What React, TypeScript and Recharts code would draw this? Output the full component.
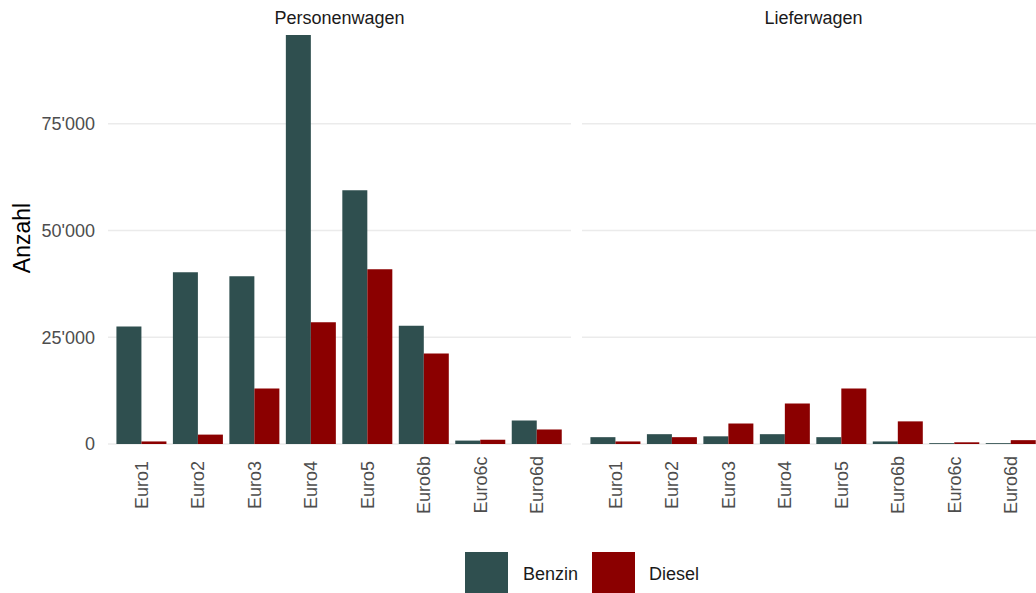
import React from "react";
import { BarChart, Bar, XAxis, YAxis, CartesianGrid } from "recharts";

const categories = ["Euro1", "Euro2", "Euro3", "Euro4", "Euro5", "Euro6b", "Euro6c", "Euro6d"];

// Personenwagen
const pwBenzin = [27500, 40200, 39300, 95800, 59400, 27700, 800, 5500];
const pwDiesel = [600, 2200, 13000, 28500, 40900, 21200, 1000, 3400];

// Lieferwagen
const lwBenzin = [1600, 2300, 1800, 2300, 1600, 600, 200, 200];
const lwDiesel = [600, 1600, 4800, 9500, 13000, 5300, 400, 900];

const yTicks = [0, 25000, 50000, 75000];
const Y_MAX = 100000;
const panels = ["Personenwagen", "Lieferwagen"];
const seriesNames = ["Benzin", "Diesel"];

const BENZIN = "#2F4F4F";
const DIESEL = "#8B0000";
const FONT = "'Liberation Sans', Arial, Helvetica, sans-serif";

const pwData = categories.map((c, i) => ({ name: c, Benzin: pwBenzin[i], Diesel: pwDiesel[i] }));
const lwData = categories.map((c, i) => ({ name: c, Benzin: lwBenzin[i], Diesel: lwDiesel[i] }));

// Tausender mit Apostroph
const formatNum = (v: number) => String(v).replace(/\B(?=(\d{3})+(?!\d))/g, "'");

const XTick = (props: any) => {
  const { x, payload } = props;
  const cy = 485;
  return (
    <text
      x={x}
      y={cy}
      transform={`rotate(-90, ${x}, ${cy})`}
      textAnchor="middle"
      dominantBaseline="central"
      fontSize={18}
      fontFamily={FONT}
      fill="#4d4d4d"
    >
      {payload.value}
    </text>
  );
};

// nur Linien bei den Ticks, keine am oberen Rand
const gridLines = ({ offset }: any) =>
  yTicks.map((t) => offset.top + offset.height * (1 - t / Y_MAX));

function Panel({ data, showY }: { data: any[]; showY: boolean }) {
  return (
    <BarChart
      width={showY ? 571 : 463}
      height={593}
      data={data}
      margin={{ top: 17, right: 0, bottom: 89, left: 0 }}
      barCategoryGap="5%"
      barGap={0}
    >
      <CartesianGrid
        vertical={false}
        stroke="#ebebeb"
        strokeWidth={1.5}
        horizontalCoordinatesGenerator={gridLines}
      />
      <XAxis
        dataKey="name"
        height={60}
        axisLine={false}
        tickLine={false}
        padding={{ left: 5.6, right: 5.6 }}
        tick={<XTick />}
        interval={0}
      />
      <YAxis
        hide={!showY}
        width={108}
        domain={[0, Y_MAX]}
        ticks={yTicks}
        axisLine={false}
        tickLine={false}
        tickSize={0}
        tickMargin={13}
        tickFormatter={formatNum}
        tick={{ fontSize: 18, fill: "#4d4d4d", fontFamily: FONT }}
        allowDataOverflow
      />
      <Bar dataKey="Benzin" fill={BENZIN} isAnimationActive={false} />
      <Bar dataKey="Diesel" fill={DIESEL} isAnimationActive={false} />
    </BarChart>
  );
}

export default function App() {
  const stripStyle: React.CSSProperties = {
    position: "absolute",
    top: 7,
    fontSize: 18,
    lineHeight: "22px",
    color: "#1a1a1a",
    textAlign: "center",
    fontFamily: FONT,
  };
  return (
    <div
      style={{
        position: "absolute",
        left: 0,
        top: 0,
        width: 1036,
        height: 593,
        overflow: "hidden",
        background: "#fff",
        fontFamily: FONT,
      }}
    >
      <div style={{ position: "absolute", left: 0, top: 0 }}>
        <Panel data={pwData} showY />
      </div>
      <div style={{ position: "absolute", left: 582, top: 0 }}>
        <Panel data={lwData} showY={false} />
      </div>

      <div style={{ ...stripStyle, left: 108, width: 463 }}>{panels[0]}</div>
      <div style={{ ...stripStyle, left: 582, width: 463 }}>{panels[1]}</div>

      <div
        style={{
          position: "absolute",
          left: 22,
          top: 238,
          transform: "translate(-50%, -50%) rotate(-90deg)",
          fontSize: 23,
          color: "#000",
          whiteSpace: "nowrap",
        }}
      >
        Anzahl
      </div>

      <div
        style={{
          position: "absolute",
          left: 465,
          top: 552,
          display: "flex",
          alignItems: "center",
          fontSize: 18,
          color: "#1a1a1a",
        }}
      >
        <div style={{ width: 43, height: 41, background: BENZIN }} />
        <span style={{ marginLeft: 15, width: 69, paddingTop: 3 }}>{seriesNames[0]}</span>
        <div style={{ width: 43, height: 41, background: DIESEL }} />
        <span style={{ marginLeft: 14, paddingTop: 3 }}>{seriesNames[1]}</span>
      </div>
    </div>
  );
}
